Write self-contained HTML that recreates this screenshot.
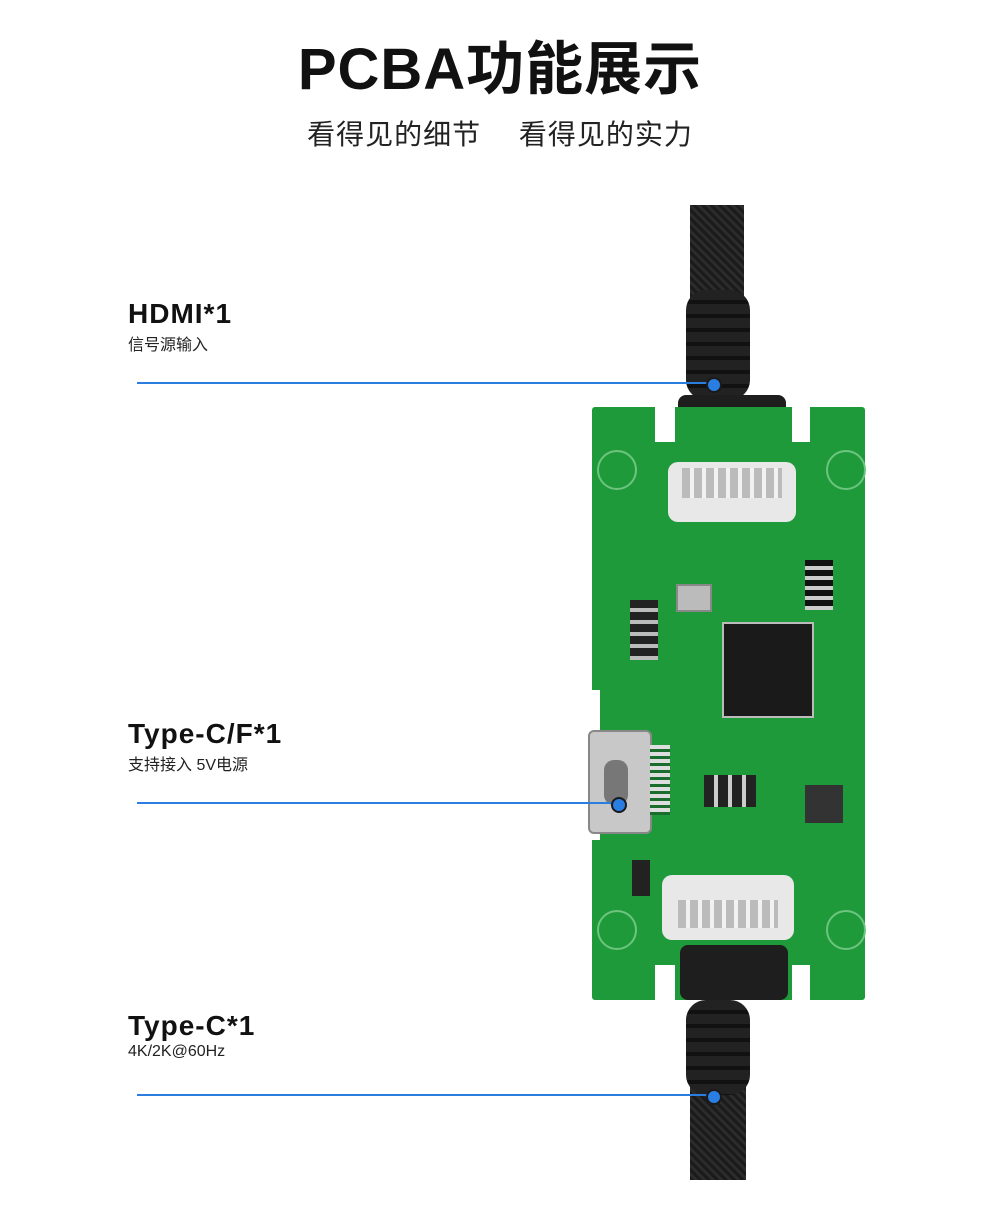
<!DOCTYPE html>
<html><head><meta charset="utf-8"><style>
body{margin:0;width:1000px;height:1224px;background:#fff;position:relative;overflow:hidden;font-family:"Liberation Sans","Noto Sans CJK SC",sans-serif;}
.a{position:absolute}
.t{left:0;width:1000px;text-align:center;top:22px;font-size:58px;font-weight:bold;color:#111;letter-spacing:1px}
.s{left:0;width:1000px;text-align:center;top:113px;font-size:28px;color:#222;letter-spacing:1px}
.h{font-size:28px;font-weight:bold;color:#111;left:128px;letter-spacing:1px}
.d{font-size:16px;color:#222;left:128px}
.l{height:2px;background:#2a7de1;left:137px}
.dot{width:12px;height:12px;border-radius:50%;background:#2a7de1;border:2px solid #1a1a1a}
.cab{background:repeating-linear-gradient(45deg,#1b1b1b 0 3px,#2c2c2c 3px 6px)}
.boot{background:#1e1e1e;border-radius:6px}
.g{background:#1f9a3a}
</style></head><body>
<div class="a t">PCBA功能展示</div>
<div class="a s">看得见的细节　 看得见的实力</div>

<div class="a cab" style="left:690px;top:205px;width:54px;height:100px"></div>
<div class="a boot" style="left:686px;top:290px;width:64px;height:110px;border-radius:20px;background:repeating-linear-gradient(180deg,#222 0 10px,#111 10px 14px)"></div>
<div class="a boot" style="left:678px;top:395px;width:108px;height:40px;border-radius:8px"></div>
<div class="a boot" style="left:690px;top:430px;width:80px;height:30px"></div>
<div class="a cab" style="left:690px;top:1080px;width:56px;height:100px"></div>
<div class="a boot" style="left:686px;top:1000px;width:64px;height:95px;border-radius:20px;background:repeating-linear-gradient(180deg,#222 0 10px,#111 10px 14px)"></div>

<div class="a g" style="left:592px;top:407px;width:273px;height:593px;border-radius:3px"></div>
<div class="a" style="left:655px;top:407px;width:20px;height:35px;background:#fff"></div>
<div class="a" style="left:792px;top:407px;width:18px;height:35px;background:#fff"></div>
<div class="a" style="left:655px;top:965px;width:20px;height:35px;background:#fff"></div>
<div class="a" style="left:792px;top:965px;width:18px;height:35px;background:#fff"></div>
<div class="a" style="left:592px;top:690px;width:8px;height:150px;background:#fff"></div>
<div class="a" style="left:597px;top:450px;width:36px;height:36px;border-radius:50%;border:2px solid #6cc47e"></div>
<div class="a" style="left:826px;top:450px;width:36px;height:36px;border-radius:50%;border:2px solid #6cc47e"></div>
<div class="a" style="left:597px;top:910px;width:36px;height:36px;border-radius:50%;border:2px solid #6cc47e"></div>
<div class="a" style="left:826px;top:910px;width:36px;height:36px;border-radius:50%;border:2px solid #6cc47e"></div>
<div class="a" style="left:668px;top:462px;width:128px;height:60px;background:#e8e8e8;border-radius:10px"></div>
<div class="a" style="left:682px;top:468px;width:100px;height:30px;background:repeating-linear-gradient(90deg,#bbb 0 8px,#f2f2f2 8px 12px)"></div>
<div class="a" style="left:662px;top:875px;width:132px;height:65px;background:#e8e8e8;border-radius:10px"></div>
<div class="a" style="left:678px;top:900px;width:100px;height:28px;background:repeating-linear-gradient(90deg,#bbb 0 8px,#f2f2f2 8px 12px)"></div>
<div class="a boot" style="left:680px;top:945px;width:108px;height:55px;border-radius:8px"></div>
<div class="a" style="left:722px;top:622px;width:88px;height:92px;background:#1a1a1a;border:2px solid #bbb"></div>
<div class="a" style="left:676px;top:584px;width:32px;height:24px;background:#bbb;border:2px solid #888"></div>
<div class="a" style="left:805px;top:560px;width:28px;height:50px;background:repeating-linear-gradient(180deg,#111 0 6px,#ccc 6px 10px)"></div>
<div class="a" style="left:805px;top:785px;width:38px;height:38px;background:#333"></div>
<div class="a" style="left:704px;top:775px;width:52px;height:32px;background:repeating-linear-gradient(90deg,#222 0 10px,#ccc 10px 14px)"></div>
<div class="a" style="left:630px;top:600px;width:28px;height:60px;background:repeating-linear-gradient(180deg,#222 0 8px,#bbb 8px 12px)"></div>
<div class="a" style="left:588px;top:730px;width:60px;height:100px;background:#c8c8c8;border:2px solid #888;border-radius:6px"></div>
<div class="a" style="left:604px;top:760px;width:24px;height:45px;background:#777;border-radius:10px"></div>
<div class="a" style="left:650px;top:745px;width:20px;height:70px;background:repeating-linear-gradient(180deg,#ddd 0 4px,#1a6d2c 4px 7px)"></div>
<div class="a" style="left:632px;top:860px;width:18px;height:36px;background:#222"></div>

<div class="a h" style="top:298px">HDMI*1</div>
<div class="a d" style="top:331px">信号源输入</div>
<div class="a l" style="top:382px;width:575px"></div>
<div class="a dot" style="left:706px;top:377px"></div>

<div class="a h" style="top:718px">Type-C/F*1</div>
<div class="a d" style="top:751px">支持接入 5V电源</div>
<div class="a l" style="top:802px;width:480px"></div>
<div class="a dot" style="left:611px;top:797px"></div>

<div class="a h" style="top:1010px">Type-C*1</div>
<div class="a d" style="top:1043px">4K/2K@60Hz</div>
<div class="a l" style="top:1094px;width:575px"></div>
<div class="a dot" style="left:706px;top:1089px"></div>
</body></html>
